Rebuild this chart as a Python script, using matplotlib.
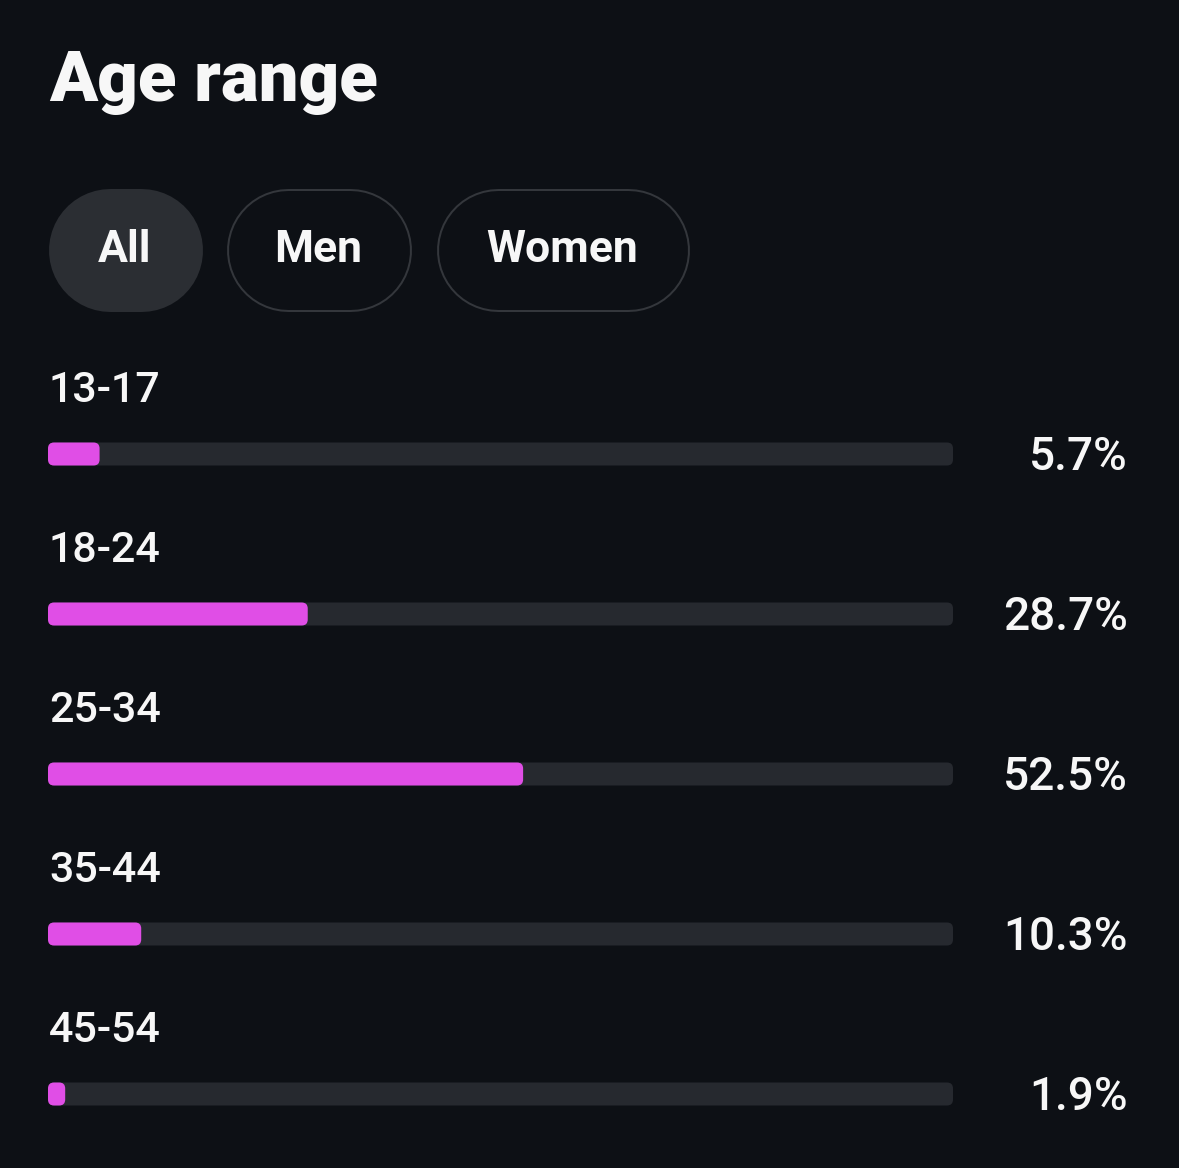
import matplotlib
matplotlib.use("Agg")
import matplotlib.pyplot as plt
from matplotlib.patches import FancyBboxPatch

# ---- data ----
categories = ["13-17", "18-24", "25-34", "35-44", "45-54"]
values = [5.7, 28.7, 52.5, 10.3, 1.9]
title = "Age range"
tabs = ["All", "Men", "Women"]

BG = "#0d1015"
TRACK = "#26292f"
BAR = "#e04ee6"
BTN_FILL = "#2b2e33"
BTN_EDGE = "#34373c"
FONT = ["Roboto", "DejaVu Sans"]

W, H = 1179, 1168
fig = plt.figure(figsize=(W / 100, H / 100), dpi=100)
fig.patch.set_facecolor(BG)

# overlay axes in pixel coordinates for header decorations
ov = fig.add_axes([0, 0, 1, 1])
ov.set_xlim(0, W)
ov.set_ylim(H, 0)
ov.axis("off")
ov.set_facecolor(BG)

ov.text(49, 101, title, fontsize=51, fontweight="black", color="#f7f7f7",
        family=FONT, ha="left", va="baseline")

pt_per_px = 72 / 100
tab_boxes = [(48, 202), (226, 411), (436, 689)]
for i, (lbl, (x0, x1)) in enumerate(zip(tabs, tab_boxes)):
    y0, y1 = 188, 311
    h = y1 - y0
    r = h / 2
    yc = (y0 + y1) / 2
    if i == 0:
        ov.plot([x0 + r, x1 - r], [yc, yc], color=BTN_FILL,
                lw=h * pt_per_px, solid_capstyle="round")
    else:
        ov.plot([x0 + r, x1 - r], [yc, yc], color=BTN_EDGE,
                lw=h * pt_per_px, solid_capstyle="round")
        ov.plot([x0 + r, x1 - r], [yc, yc], color=BG,
                lw=(h - 4) * pt_per_px, solid_capstyle="round")
    ov.text((x0 + x1) / 2, 250, lbl, fontsize=32, fontweight="bold",
            color="#f7f7f7", family=FONT, ha="center", va="center")

# bar axes: x in percent, y category index
px_per_x = 905 / 100.0
px_per_y = 160.0
ax_left, ax_w = 48, 905
ax_top, ax_h = 294, 872
ax = fig.add_axes([ax_left / W, 1 - (ax_top + ax_h) / H, ax_w / W, ax_h / H])
ax.set_xlim(0, 100)
ax.set_ylim(-1 + ax_h / px_per_y, -1)
ax.axis("off")
ax.patch.set_alpha(0)

bar_h = 23 / px_per_y
rad = 6 / px_per_x
aspect = px_per_x / px_per_y
for i, (cat, v) in enumerate(zip(categories, values)):
    track = FancyBboxPatch((rad, i - bar_h / 2 + rad * aspect),
                           100 - 2 * rad, bar_h - 2 * rad * aspect,
                           boxstyle=f"round,pad={rad},rounding_size={rad}",
                           mutation_aspect=aspect, facecolor=TRACK,
                           edgecolor="none", clip_on=False)
    ax.add_patch(track)
    w = max(v, 2 * rad + 0.01)
    bar = FancyBboxPatch((rad, i - bar_h / 2 + rad * aspect),
                         w - 2 * rad, bar_h - 2 * rad * aspect,
                         boxstyle=f"round,pad={rad},rounding_size={rad}",
                         mutation_aspect=aspect, facecolor=BAR,
                         edgecolor="none", clip_on=False)
    ax.add_patch(bar)
    ax.text(0.1, i - 64 / px_per_y, cat, fontsize=31, fontweight="medium",
            color="#f7f7f7", family=FONT, ha="left", va="center",
            clip_on=False)
    ax.text((1128 - 48) / px_per_x, i + 3 / px_per_y, f"{v}%", fontsize=33,
            fontweight="medium", color="#f7f7f7", family=FONT, ha="right",
            va="center", clip_on=False)

fig.savefig("out.png", dpi=100, facecolor=BG)
